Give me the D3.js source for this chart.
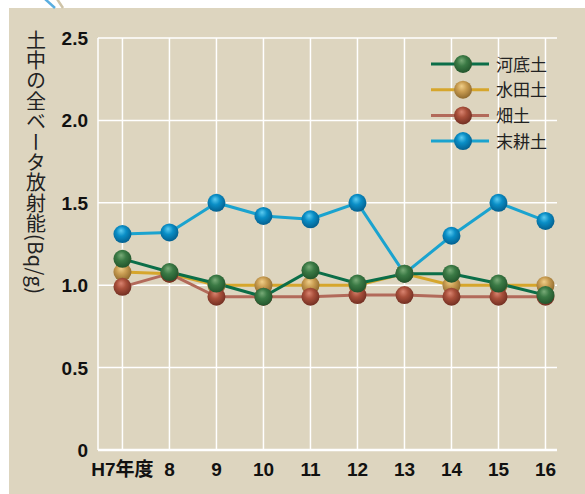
<!DOCTYPE html>
<html>
<head>
<meta charset="utf-8">
<script src="https://cdn.jsdelivr.net/npm/d3@7"></script>
<style>
  body { margin: 0; background: #fff; }
  svg { display: block; }
</style>
</head>
<body>
<div id="container"></div>
<script>
// データ
var years = ["H7年度", "8", "9", "10", "11", "12", "13", "14", "15", "16"];
var yTicks = [0, 0.5, 1.0, 1.5, 2.0, 2.5];
var yTickLabels = ["0", "0.5", "1.0", "1.5", "2.0", "2.5"];
var seriesNames = ["河底土", "水田土", "畑土", "末耕土"];
var kateiValues = [1.16, 1.08, 1.01, 0.93, 1.09, 1.01, 1.07, 1.07, 1.01, 0.94];
var suidenValues = [1.08, 1.07, 1.00, 1.00, 1.00, 1.00, 1.07, 1.00, 1.00, 1.00];
var hataValues = [0.99, 1.07, 0.93, 0.93, 0.93, 0.94, 0.94, 0.93, 0.93, 0.93];
var mikouValues = [1.31, 1.32, 1.50, 1.42, 1.40, 1.50, 1.07, 1.30, 1.50, 1.39];

var W = 585, H = 494;

var svg = d3.select("#container")
  .append("svg")
  .attr("width", W)
  .attr("height", H);

// 色
var styles = {
  "河底土": { line: "#0b6e48", base: "#3b7a45", light: "#79ab78", dark: "#23552c" },
  "水田土": { line: "#d6a62c", base: "#c99d52", light: "#f0cf8a", dark: "#8f6a2e" },
  "畑土":   { line: "#b26a5a", base: "#a9503b", light: "#d98470", dark: "#722f22" },
  "末耕土": { line: "#1aa3cf", base: "#0a8ec6", light: "#5ccbf0", dark: "#04608f" }
};

var series = [
  { name: "末耕土", values: mikouValues },
  { name: "水田土", values: suidenValues },
  { name: "畑土", values: hataValues },
  { name: "河底土", values: kateiValues }
];

// グラデーション
var defs = svg.append("defs");
seriesNames.forEach(function(n, i) {
  var s = styles[n];
  var g = defs.append("radialGradient")
    .attr("id", "ball" + i)
    .attr("cx", "45%").attr("cy", "40%").attr("r", "60%")
    .attr("fx", "42%").attr("fy", "30%");
  g.append("stop").attr("offset", "0%").attr("stop-color", s.light);
  g.append("stop").attr("offset", "45%").attr("stop-color", s.base);
  g.append("stop").attr("offset", "100%").attr("stop-color", s.dark);
  s.grad = "url(#ball" + i + ")";
});

// 背景パネル
svg.append("rect")
  .attr("x", 9).attr("y", 8)
  .attr("width", W - 9).attr("height", H - 8)
  .attr("fill", "#ddd5bf");

// 左上の飾り線
svg.append("line")
  .attr("x1", 45).attr("y1", -1).attr("x2", 55).attr("y2", 8)
  .attr("stroke", "#5aaee0").attr("stroke-width", 2.5);
svg.append("line")
  .attr("x1", 57).attr("y1", -1).attr("x2", 63).attr("y2", 8)
  .attr("stroke", "#cfc4a8").attr("stroke-width", 2.5);

// スケール
var x = d3.scaleLinear()
  .domain([-0.52, 9.245])
  .range([98, 557]);

var y = d3.scaleLinear()
  .domain([0, 2.5])
  .range([450, 38]);

// グリッド
svg.selectAll(".hgrid")
  .data(yTicks)
  .enter().append("line")
  .attr("x1", x.range()[0])
  .attr("x2", x.range()[1])
  .attr("y1", function(d) { return y(d) })
  .attr("y2", function(d) { return y(d) })
  .attr("stroke", "#fff")
  .attr("stroke-width", function(d) { return d === 0 ? 2.5 : 1.5 });

svg.append("line")
  .attr("x1", x.range()[0]).attr("x2", x.range()[0])
  .attr("y1", y(2.5)).attr("y2", y(0))
  .attr("stroke", "#fff").attr("stroke-width", 1.5);

svg.selectAll(".vgrid")
  .data(years)
  .enter().append("line")
  .attr("x1", function(d, i) { return x(i) })
  .attr("x2", function(d, i) { return x(i) })
  .attr("y1", y(2.5))
  .attr("y2", y(0))
  .attr("stroke", "#fff")
  .attr("stroke-width", 1.5);

// Y軸ラベル
svg.selectAll(".ytick")
  .data(yTicks)
  .enter().append("text")
  .attr("x", 88)
  .attr("y", function(d) { return y(d) + 7 })
  .attr("text-anchor", "end")
  .attr("font-family", "'Liberation Sans', Arial, sans-serif")
  .attr("font-weight", "bold")
  .attr("font-size", 19)
  .attr("fill", "#111")
  .text(function(d, i) { return yTickLabels[i] });

// X軸ラベル
svg.selectAll(".xtick")
  .data(years)
  .enter().append("text")
  .attr("x", function(d, i) { return x(i) })
  .attr("y", 476)
  .attr("text-anchor", "middle")
  .attr("font-family", "'Liberation Sans', 'Noto Sans CJK JP', sans-serif")
  .attr("font-weight", "bold")
  .attr("font-size", 19)
  .attr("fill", "#111")
  .text(function(d) { return d });

// 縦書きタイトル
svg.append("text")
  .attr("x", 36)
  .attr("y", 30)
  .style("writing-mode", "vertical-rl")
  .style("letter-spacing", "0.4px")
  .attr("font-family", "'Noto Sans CJK JP', sans-serif")
  .attr("font-size", 20)
  .attr("fill", "#222")
  .text("土中の全ベータ放射能(Bq/g)");

// 折れ線
var line = d3.line()
  .x(function(d, i) { return x(i) })
  .y(function(d) { return y(d) });

// 線はすべて先に描く（緑の球が一番上）
series.forEach(function(s) {
  svg.append("path")
    .datum(s.values)
    .attr("d", line)
    .attr("fill", "none")
    .attr("stroke", styles[s.name].line)
    .attr("stroke-width", 3)
    .attr("stroke-linejoin", "round");
});

series.forEach(function(s) {
  svg.selectAll(".dot-" + s.name)
    .data(s.values)
    .enter().append("circle")
    .attr("cx", function(d, i) { return x(i) })
    .attr("cy", function(d) { return y(d) })
    .attr("r", 9)
    .attr("fill", styles[s.name].grad);
});

// 凡例
var legend = svg.append("g")
  .attr("transform", "translate(431,64)");

seriesNames.forEach(function(n, i) {
  var g = legend.append("g")
    .attr("transform", "translate(0," + (i * 25.7) + ")");
  g.append("line")
    .attr("x1", 0).attr("x2", 58)
    .attr("y1", 0).attr("y2", 0)
    .attr("stroke", styles[n].line)
    .attr("stroke-width", 3);
  g.append("circle")
    .attr("cx", 32).attr("cy", 0).attr("r", 9)
    .attr("fill", styles[n].grad);
  g.append("text")
    .attr("x", 65).attr("y", 6.5)
    .attr("font-family", "'Noto Sans CJK JP', sans-serif")
    .attr("font-size", 17)
    .attr("fill", "#222")
    .text(n);
});
</script>
</body>
</html>
